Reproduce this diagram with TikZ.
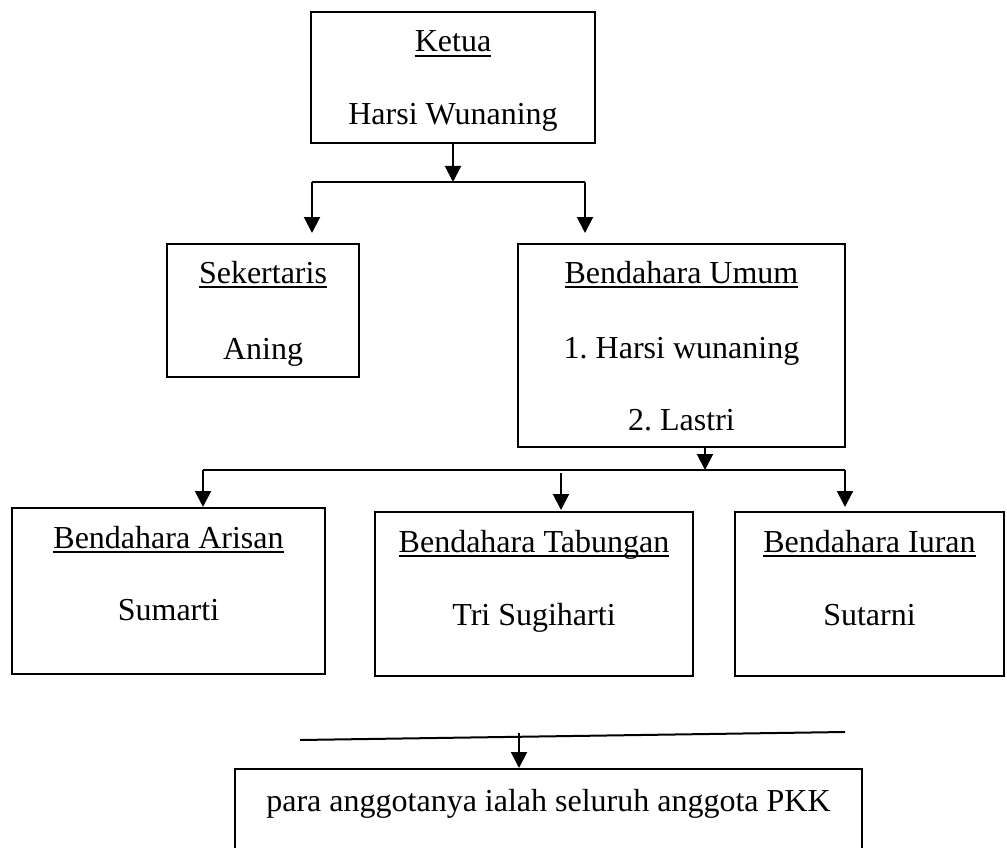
\documentclass[tikz,border=0pt]{standalone}
\usepackage{fontspec}
\setmainfont{Liberation Serif}
\usetikzlibrary{arrows.meta}
\frenchspacing
\newcommand{\ulx}[1]{\setbox0=\hbox{#1}\rlap{\rule[-5pt]{\wd0}{1.6pt}}\box0}
\tikzset{
  box/.style={draw, line width=2pt, inner sep=0pt, rectangle},
  txt/.style={anchor=base, inner sep=0pt, font=\fontsize{32}{38}\selectfont},
  ln/.style={line width=2pt},
  arr/.style={line width=2pt, -{Triangle[length=16pt,width=16pt]}}
}
\begin{document}
\begin{tikzpicture}[x=1pt,y=-1pt]
\useasboundingbox (0,0) rectangle (1007,848);
\clip (0,0) rectangle (1007,848);
\fill[white] (0,0) rectangle (1007,848);
% boxes
\node[box, minimum width=284pt, minimum height=131pt] (ketua) at (453,77.5) {};
\node[box, minimum width=192pt, minimum height=133pt] (sek) at (263,310.5) {};
\node[box, minimum width=327pt, minimum height=203pt] (umum) at (681.5,345.5) {};
\node[box, minimum width=313pt, minimum height=166pt] (ari) at (168.5,591) {};
\node[box, minimum width=318pt, minimum height=164pt] (tab) at (534,594) {};
\node[box, minimum width=269pt, minimum height=164pt] (iur) at (869.5,594) {};
\node[box, minimum width=627pt, minimum height=111pt] (ang) at (548.5,824.5) {};
% texts
\node[txt] (ketuaA) at (453,52) {\ulx{Ketua}};
\node[txt] (ketuaB) at (453,125) {Harsi Wunaning};
\node[txt] (sekA) at (263,283) {\ulx{Sekertaris}};
\node[txt] (sekB) at (263,359) {Aning};
\node[txt] (umumA) at (681.5,283) {\ulx{Bendahara Umum}};
\node[txt] (umumB) at (681.5,358) {1. Harsi wunaning};
\node[txt] (umumC) at (681.5,430) {2. Lastri};
\node[txt] (ariA) at (168.5,548) {\ulx{Bendahara Arisan}};
\node[txt] (ariB) at (168.5,620) {Sumarti};
\node[txt] (tabA) at (534,552) {\ulx{Bendahara Tabungan}};
\node[txt] (tabB) at (534,625) {Tri Sugiharti};
\node[txt] (iurA) at (869.5,552) {\ulx{Bendahara Iuran}};
\node[txt] (iurB) at (869.5,625) {Sutarni};
\node[txt] (angA) at (548.5,811) {para anggotanya ialah seluruh anggota PKK};
% connector points
\coordinate (k1) at (453,182);
\coordinate (kL) at (312,182);
\coordinate (kR) at (585,182);
\coordinate (sekIn) at (312,233);
\coordinate (umIn) at (585,233);
\coordinate (uOut) at (705,447);
\coordinate (u1) at (705,470);
\coordinate (bL) at (203,470);
\coordinate (bR) at (845,470);
\coordinate (ariIn) at (203,507);
\coordinate (tabTop) at (561,473);
\coordinate (tabIn) at (561,510);
\coordinate (iurIn) at (845,507);
\coordinate (pL) at (300,740);
\coordinate (pR) at (845,732);
\coordinate (pM) at (519,733);
% connectors
\draw[arr] (ketua.south) -- (k1);
\draw[ln] (kL) -- (kR);
\draw[arr] (kL) -- (sekIn);
\draw[arr] (kR) -- (umIn);
\draw[arr] (uOut) -- (u1);
\draw[ln] (bL) -- (bR);
\draw[arr] (bL) -- (ariIn);
\draw[arr] (tabTop) -- (tabIn);
\draw[arr] (bR) -- (iurIn);
\draw[ln] (pL) -- (pR);
\draw[arr] (pM) -- (ang.north -| pM);
\end{tikzpicture}
\end{document}
